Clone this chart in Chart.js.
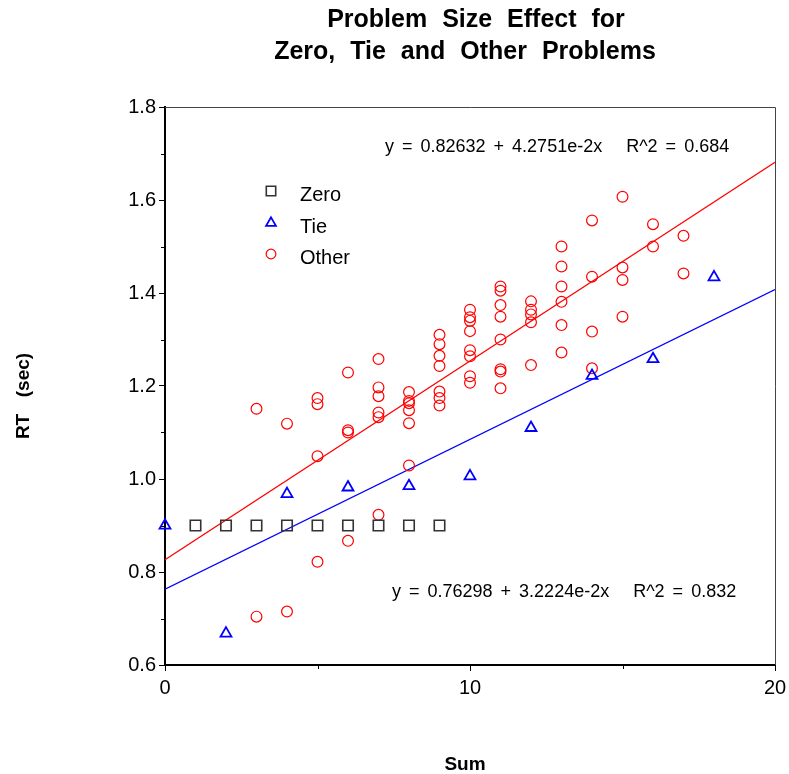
<!DOCTYPE html>
<html>
<head>
<meta charset="utf-8">
<title>Problem Size Effect</title>
<script src="https://cdn.jsdelivr.net/npm/chart.js@4.4.0/dist/chart.umd.min.js"></script>
<style>
  html, body { margin: 0; padding: 0; background: #fff; }
  #wrap { width: 789px; height: 774px; }
</style>
</head>
<body>
<div id="wrap"><canvas id="chart" width="789" height="774"></canvas></div>
<script>
// zero problems (n + 0)
const zeroSums = [1, 2, 3, 4, 5, 6, 7, 8, 9];
const zeroRT = [0.9, 0.9, 0.9, 0.9, 0.9, 0.9, 0.9, 0.9, 0.9];

// tie problems (n + n)
const tieSums = [0, 2, 4, 6, 8, 10, 12, 14, 16, 18];
const tieRT = [0.900, 0.668, 0.968, 0.982, 0.985, 1.006, 1.110, 1.222, 1.258, 1.434];

// everything else
const otherSums = [
    3, 3,
    4, 4,
    5, 5, 5, 5,
    6, 6, 6, 6,
    7, 7, 7, 7, 7, 7,
    8, 8, 8, 8, 8, 8,
    9, 9, 9, 9, 9, 9, 9,
    10, 10, 10, 10, 10, 10, 10, 10,
    11, 11, 11, 11, 11, 11, 11, 11,
    12, 12, 12, 12, 12,
    13, 13, 13, 13, 13, 13,
    14, 14, 14, 14,
    15, 15, 15, 15,
    16, 16,
    17, 17
];
const otherRT = [
    1.151, 0.704,
    1.119, 0.715,
    1.174, 1.161, 1.049, 0.822,
    1.229, 1.105, 1.100, 0.867,
    1.258, 1.197, 1.178, 1.143, 1.133, 0.923,
    1.187, 1.168, 1.163, 1.148, 1.120, 1.029,
    1.310, 1.290, 1.265, 1.243, 1.188, 1.174, 1.158,
    1.364, 1.348, 1.340, 1.318, 1.277, 1.264, 1.221, 1.207,
    1.414, 1.405, 1.374, 1.349, 1.300, 1.236, 1.231, 1.195,
    1.382, 1.364, 1.354, 1.337, 1.245,
    1.500, 1.457, 1.414, 1.381, 1.331, 1.272,
    1.556, 1.435, 1.317, 1.238,
    1.607, 1.455, 1.428, 1.349,
    1.548, 1.500,
    1.523, 1.442
];

// regression fits: [other, tie]
const fitIntercepts = [0.82632, 0.76298];
const fitSlopes = [4.2751e-2, 3.2224e-2];
const fitSlopeText = ['4.2751e-2', '3.2224e-2'];
const fitR2 = [0.684, 0.832];

const xMin = 0, xMax = 20;
const yMin = 0.6, yMax = 1.8;
const yMinorTicks = [0.7, 0.9, 1.1, 1.3, 1.5, 1.7];
const xMinorTicks = [5, 15];

const FONT = '"Liberation Sans", Arial, sans-serif';

function pairs(xs, ys) {
    return xs.map((x, i) => ({ x: x, y: ys[i] }));
}

function fitLine(i) {
    return [xMin, xMax].map(x => ({ x: x, y: fitIntercepts[i] + fitSlopes[i] * x }));
}

const markers = {
    zero: { pointStyle: 'rect', radius: 7.4, borderWidth: 1.6, color: '#333333' },
    tie: { pointStyle: 'triangle', radius: 6.3, borderWidth: 1.8, color: '#0000ff' },
    other: { pointStyle: 'circle', radius: 5.4, borderWidth: 1.2, color: '#ff0000' }
};

function pointDataset(label, data, m) {
    return {
        label: label,
        data: data,
        showLine: false,
        clip: false,
        pointStyle: m.pointStyle,
        pointRadius: m.radius,
        pointBorderWidth: m.borderWidth,
        pointBorderColor: m.color,
        pointBackgroundColor: 'rgba(0,0,0,0)',
        order: 1
    };
}

function lineDataset(data, color) {
    return {
        data: data,
        showLine: true,
        borderColor: color,
        borderWidth: 1.3,
        pointRadius: 0,
        fill: false,
        order: 2
    };
}

function spacedText(ctx, text, x, y, wordGap) {
    ctx.wordSpacing = wordGap + 'px';
    ctx.fillText(text, x, y);
    ctx.wordSpacing = '0px';
}

// frame, minor ticks, titles, legend and fit equations
const decorations = {
    id: 'decorations',
    afterDraw(chart) {
        const ctx = chart.ctx;
        const area = chart.chartArea;
        const xs = chart.scales.x;
        const ys = chart.scales.y;
        ctx.save();

        // top and right frame
        ctx.strokeStyle = '#444444';
        ctx.lineWidth = 1;
        ctx.beginPath();
        ctx.moveTo(area.left, area.top + 0.5);
        ctx.lineTo(area.right + 0.5, area.top + 0.5);
        ctx.lineTo(area.right + 0.5, area.bottom);
        ctx.stroke();

        // minor ticks
        ctx.strokeStyle = '#000000';
        ctx.beginPath();
        yMinorTicks.forEach(v => {
            const py = Math.round(ys.getPixelForValue(v)) + 0.5;
            ctx.moveTo(area.left - 4, py);
            ctx.lineTo(area.left, py);
        });
        xMinorTicks.forEach(v => {
            const px = Math.round(xs.getPixelForValue(v)) + 0.5;
            ctx.moveTo(px, area.bottom);
            ctx.lineTo(px, area.bottom + 4);
        });
        ctx.stroke();

        // title
        ctx.fillStyle = '#000000';
        ctx.textAlign = 'center';
        ctx.textBaseline = 'middle';
        ctx.font = 'bold 25px ' + FONT;
        spacedText(ctx, 'Problem Size Effect for', 476, 20, 8);
        spacedText(ctx, 'Zero, Tie and Other Problems', 465, 52, 8);

        // axis titles
        ctx.font = 'bold 19px ' + FONT;
        ctx.fillText('Sum', 465, 765);
        ctx.save();
        ctx.translate(24, 396);
        ctx.rotate(-Math.PI / 2);
        spacedText(ctx, 'RT  (sec)', 0, 0, 3);
        ctx.restore();

        // legend inside the plot
        const legend = [['Zero', markers.zero], ['Tie', markers.tie], ['Other', markers.other]];
        const legendY = [194, 226, 257];
        legend.forEach((item, i) => {
            const m = item[1];
            ctx.strokeStyle = m.color;
            ctx.fillStyle = 'rgba(0,0,0,0)';
            ctx.lineWidth = m.borderWidth;
            Chart.helpers.drawPoint(ctx, { pointStyle: m.pointStyle, radius: m.radius * 0.9, rotation: 0, borderWidth: m.borderWidth }, 271, legendY[i] - 3);
            ctx.fillStyle = '#000000';
            ctx.font = '20px ' + FONT;
            ctx.textAlign = 'left';
            ctx.fillText(item[0], 300, legendY[i] + 1);
        });

        // fit equations
        ctx.font = '18px ' + FONT;
        ctx.fillStyle = '#000000';
        ctx.textAlign = 'left';
        const eqPos = [[385, 147], [392, 592]];
        fitIntercepts.forEach((b, i) => {
            const txt = 'y = ' + b.toFixed(5) + ' + ' + fitSlopeText[i] + 'x   R^2 = ' + fitR2[i].toFixed(3);
            spacedText(ctx, txt, eqPos[i][0], eqPos[i][1], 3);
        });

        ctx.restore();
    }
};

const ctx = document.getElementById('chart').getContext('2d');
const chart = new Chart(ctx, {
    type: 'scatter',
    data: {
        datasets: [
            lineDataset(fitLine(0), '#ff0000'),
            lineDataset(fitLine(1), '#0000ff'),
            pointDataset('Zero', pairs(zeroSums, zeroRT), markers.zero),
            pointDataset('Tie', pairs(tieSums, tieRT), markers.tie),
            pointDataset('Other', pairs(otherSums, otherRT), markers.other)
        ]
    },
    options: {
        responsive: false,
        animation: false,
        layout: { padding: { top: 107, right: 14, left: 0, bottom: 0 } },
        plugins: {
            legend: { display: false },
            tooltip: { enabled: false }
        },
        scales: {
            x: {
                type: 'linear',
                min: xMin,
                max: xMax,
                afterFit: s => { s.height = 109; s.paddingRight = 0; },
                ticks: {
                    stepSize: 10,
                    color: '#000000',
                    font: { family: FONT, size: 20 },
                    padding: 5,
                    maxRotation: 0
                },
                grid: { drawOnChartArea: false, tickLength: 6, tickColor: '#000000' },
                border: { color: '#000000', width: 2 }
            },
            y: {
                min: yMin,
                max: yMax,
                afterFit: s => { s.width = 165; },
                ticks: {
                    stepSize: 0.2,
                    color: '#000000',
                    font: { family: FONT, size: 20 },
                    padding: 3,
                    callback: v => v.toFixed(1)
                },
                grid: { drawOnChartArea: false, tickLength: 6, tickColor: '#000000' },
                border: { color: '#000000', width: 2 }
            }
        }
    },
    plugins: [decorations]
});
</script>
</body>
</html>
